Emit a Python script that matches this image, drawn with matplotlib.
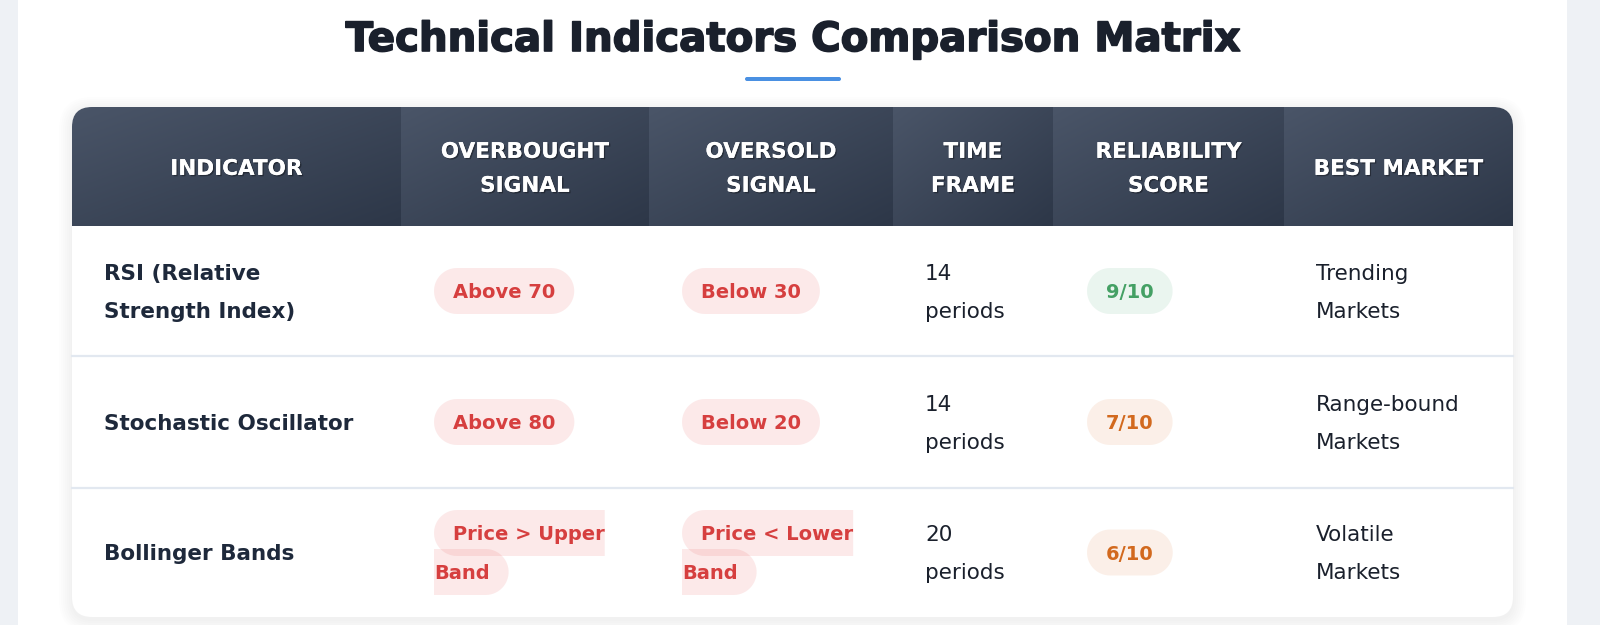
import numpy as np
import matplotlib
matplotlib.use("Agg")
import matplotlib.pyplot as plt
import matplotlib.patheffects as pe
from matplotlib.patches import FancyBboxPatch, Rectangle, PathPatch
from matplotlib.path import Path
from matplotlib.colors import LinearSegmentedColormap

# table content
title = "Technical Indicators Comparison Matrix"
headers = ["INDICATOR", "OVERBOUGHT\nSIGNAL", "OVERSOLD\nSIGNAL",
           "TIME\nFRAME", "RELIABILITY\nSCORE", "BEST MARKET"]
indicators = ["RSI (Relative\nStrength Index)", "Stochastic Oscillator", "Bollinger Bands"]
overbought = ["Above 70", "Above 80", "Price > Upper\nBand"]
oversold = ["Below 30", "Below 20", "Price < Lower\nBand"]
time_frame = ["14\nperiods", "14\nperiods", "20\nperiods"]
scores = [9, 7, 6]
best_market = ["Trending\nMarkets", "Range-bound\nMarkets", "Volatile\nMarkets"]

# layout (pixels)
W, H = 1600, 625
col_edges = [72, 401, 649, 893, 1053, 1284, 1513]
card_top, head_bot, card_bot = 107, 226, 617
row_edges = [226, 356, 488, 617]
PAD = 32

DARK = "#1e293b"
RED = ("#d63f3f", (229 / 255, 62 / 255, 62 / 255, 0.11))
GREEN = ("#44a064", (56 / 255, 161 / 255, 105 / 255, 0.10))
ORANGE = ("#d2691e", (221 / 255, 107 / 255, 32 / 255, 0.10))


def score_style(s):
    return GREEN if s >= 8 else ORANGE


fig = plt.figure(figsize=(16, 6.25), dpi=100)
fig.patch.set_facecolor("#eef1f5")
ax = fig.add_axes([0, 0, 1, 1])
ax.set_xlim(0, W)
ax.set_ylim(H, 0)
ax.axis("off")
renderer = fig.canvas.get_renderer()

# white page container
ax.add_patch(Rectangle((18, 0), 1549, H, fc="white", ec="none", zorder=0))

# title + underline
ax.text((18 + 1567) / 2, 51, title, ha="center", va="baseline",
        fontsize=29, fontweight="bold", color="#1a202c",
        path_effects=[pe.withStroke(linewidth=1.2, foreground="#1a202c")])
ax.add_patch(FancyBboxPatch((745, 77), 96, 4, boxstyle="round,pad=0,rounding_size=2",
                            fc="#4a90e2", ec="none"))

# card shadow + card
cw, ch = col_edges[-1] - col_edges[0], card_bot - card_top
for s in range(1, 14, 2):
    ax.add_patch(FancyBboxPatch((col_edges[0] - s, card_top + 3 - s), cw + 2 * s, ch + 2 * s,
                                boxstyle=f"round,pad=0,rounding_size={20 + s}",
                                fc="black", ec="none", alpha=0.007, zorder=1))
card = FancyBboxPatch((col_edges[0], card_top), cw, ch,
                      boxstyle="round,pad=0,rounding_size=20", fc="white", ec="none", zorder=1)
ax.add_patch(card)

# header cells with diagonal gradient
head_cmap = LinearSegmentedColormap.from_list("head", ["#4a5568", "#2d3748"])
u = np.linspace(0, 1, 200)
v = np.linspace(0, 1, 80)
grad = (u[None, :] + v[:, None]) / 2
for x0, x1 in zip(col_edges[:-1], col_edges[1:]):
    im = ax.imshow(grad, cmap=head_cmap, extent=(x0, x1, head_bot, card_top),
                   aspect="auto", interpolation="bilinear", zorder=2)
    im.set_clip_path(card)
ax.set_xlim(0, W)
ax.set_ylim(H, 0)


def cap_half(fs):
    return 0.365 * fs * 100 / 72


def put_lines(x, yc, text, lh, fs, ha="left", **kw):
    lines = text.split("\n")
    n = len(lines)
    for i, line in enumerate(lines):
        y = yc + (i - (n - 1) / 2) * lh
        ax.text(x, y + cap_half(fs), line, ha=ha, va="baseline", fontsize=fs, zorder=4, **kw)


def half_round(left, right, yc, h, round_left, round_right):
    r = h / 2
    pts = []
    if round_left:
        th = np.linspace(np.pi / 2, 3 * np.pi / 2, 30)
        pts += list(zip(left + r + r * np.cos(th), yc + r * np.sin(th)))
    else:
        pts += [(left, yc + r), (left, yc - r)]
    if round_right:
        th = np.linspace(-np.pi / 2, np.pi / 2, 30)
        pts += list(zip(right - r + r * np.cos(th), yc + r * np.sin(th)))
    else:
        pts += [(right, yc - r), (right, yc + r)]
    pts.append(pts[0])
    return Path(pts, closed=True)


def pill(x, yc, text, style, fs=14, pad=19, h=46, lh=39):
    fg, bg = style
    lines = text.split("\n")
    n = len(lines)
    for i, line in enumerate(lines):
        y = yc + (i - (n - 1) / 2) * lh
        tx = x + (pad if i == 0 else 0)
        t = ax.text(tx, y + cap_half(fs), line, ha="left", va="baseline",
                    fontsize=fs, fontweight="bold", color=fg, zorder=4)
        w = t.get_window_extent(renderer=renderer).width
        right = tx + w + (pad if i == n - 1 else 0)
        ax.add_patch(PathPatch(half_round(x, right, y, h, i == 0, i == n - 1),
                               fc=bg, ec="none", zorder=3))


# header labels (with a soft text shadow)
shadow = [pe.withSimplePatchShadow(offset=(1, -1), shadow_rgbFace="black", alpha=0.35),
          pe.Normal()]
for j, lab in enumerate(headers):
    xc = (col_edges[j] + col_edges[j + 1]) / 2
    put_lines(xc, 167, lab, 34, 15.5, ha="center", color="white", fontweight="bold",
              path_effects=shadow)

# row separators
for y in row_edges[1:-1]:
    ax.plot([col_edges[0], col_edges[-1]], [y, y], color="#e2e8f0", lw=1.6, zorder=3)

# body rows
for i in range(len(indicators)):
    yc = (row_edges[i] + row_edges[i + 1]) / 2
    put_lines(col_edges[0] + PAD, yc, indicators[i], 38, 15.5, color=DARK, fontweight="bold")
    pill(col_edges[1] + PAD + 1, yc, overbought[i], RED)
    pill(col_edges[2] + PAD + 1, yc, oversold[i], RED)
    put_lines(col_edges[3] + PAD, yc, time_frame[i], 38, 15.5, color="#1a202c")
    pill(col_edges[4] + PAD + 2, yc, f"{scores[i]}/10", score_style(scores[i]))
    put_lines(col_edges[5] + PAD, yc, best_market[i], 38, 15.5, color="#1a202c")

fig.savefig("out.png", dpi=100, facecolor=fig.get_facecolor())
